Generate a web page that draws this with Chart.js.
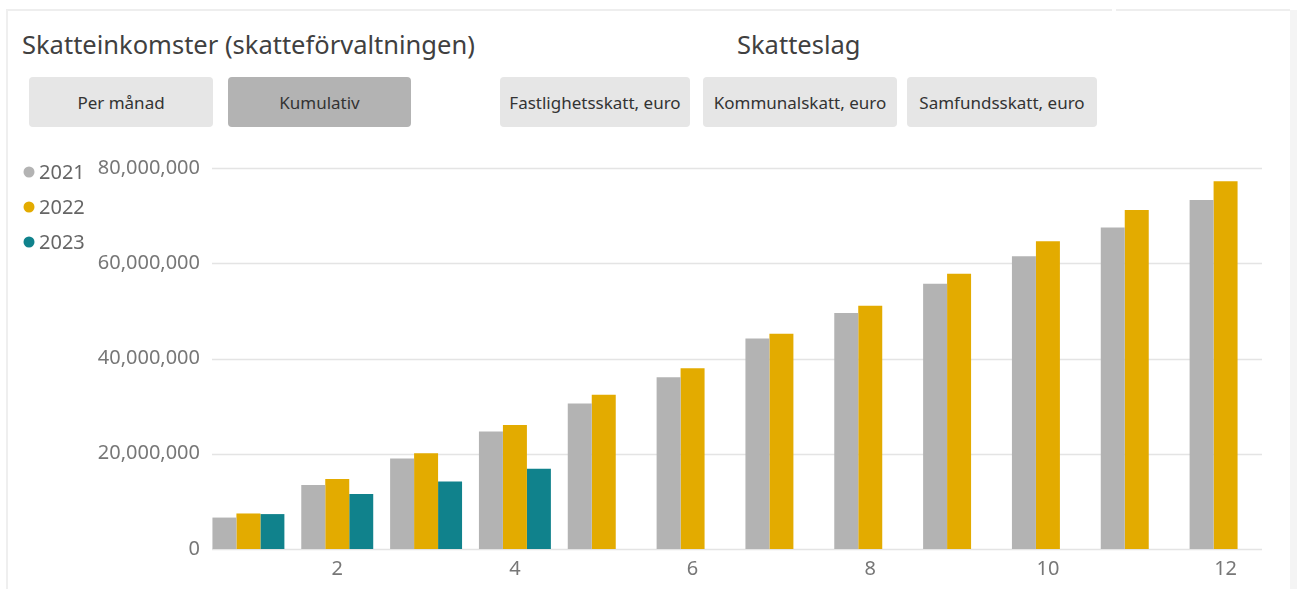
<!DOCTYPE html>
<html>
<head>
<meta charset="utf-8">
<script src="https://cdn.jsdelivr.net/npm/chart.js@4/dist/chart.umd.min.js"></script>
<style>
  html, body { margin: 0; padding: 0; background: #fff; }
  body { width: 1301px; height: 589px; position: relative; overflow: hidden; font-family: "Segoe UI", "Noto Sans", "Open Sans", sans-serif; }
  .frameTop { position: absolute; top: 9px; height: 2px; background: #eeeeee; }
  .frameLeft { position: absolute; left: 6px; top: 10px; width: 2px; height: 579px; background: #efefef; }
  .frameRight { position: absolute; left: 1290px; top: 10px; width: 7px; height: 579px; background: #f4f4f4; }
  .title { position: absolute; font-size: 25.5px; color: #404040; white-space: nowrap; line-height: 1; }
  .btn { position: absolute; top: 77px; height: 50px; border-radius: 4px; background: #e6e6e6; color: #333;
         font-family: "Segoe UI", "Noto Sans", "Open Sans", sans-serif; font-size: 17px;
         display: flex; align-items: center; justify-content: center; white-space: nowrap; }
  .btn.active { background: #b3b3b3; }
  #wrap { position: absolute; left: 0; top: 140px; width: 1301px; height: 449px; }
</style>
</head>
<body>
<div class="frameTop" style="left:6px; width:1106px;"></div>
<div class="frameTop" style="left:1116px; width:174px;"></div>
<div class="frameLeft"></div>
<div class="frameRight"></div>

<div class="title" style="left:22px; top:32px;">Skatteinkomster (skatteförvaltningen)</div>
<div class="title" style="left:737px; top:32px;">Skatteslag</div>

<div class="btn" style="left:29px; width:184px;">Per månad</div>
<div class="btn active" style="left:228px; width:183px;">Kumulativ</div>
<div class="btn" style="left:500px; width:190px;">Fastlighetsskatt, euro</div>
<div class="btn" style="left:703px; width:194px;">Kommunalskatt, euro</div>
<div class="btn" style="left:907px; width:190px;">Samfundsskatt, euro</div>

<div id="wrap"><canvas id="c" width="1301" height="449"></canvas></div>

<script>
const months = ['1','2','3','4','5','6','7','8','9','10','11','12'];
const seriesNames = ['2021','2022','2023'];
const values2021 = [6600000, 13450000, 19000000, 24650000, 30560000, 36040000, 44200000, 49570000, 55700000, 61460000, 67500000, 73300000];
const values2022 = [7460000, 14720000, 20130000, 26040000, 32400000, 37950000, 45200000, 51050000, 57800000, 64600000, 71200000, 77200000];
const values2023 = [7330000, 11550000, 14150000, 16830000, null, null, null, null, null, null, null, null];
const yTicks = [0, 20000000, 40000000, 60000000, 80000000];
const colors = ['#b3b3b3', '#e3ab00', '#10828c'];

const fontFamily = '"Segoe UI", "Noto Sans", "Open Sans", sans-serif';
const tickFont = { family: fontFamily, size: 20 };
const tickColor = '#777777';

const gridPlugin = {
  id: 'pbiGrid',
  beforeDatasetsDraw(chart) {
    const ctx = chart.ctx, y = chart.scales.y;
    const m0 = chart.getDatasetMeta(0).data, m1 = chart.getDatasetMeta(1).data;
    const first = m0[0], last = m1[m1.length - 1];
    const left = Math.round(first.x - first.width / 2);
    const right = Math.round(last.x + last.width * 1.5);
    ctx.save();
    ctx.strokeStyle = '#e4e4e4';
    ctx.lineWidth = 1.5;
    y.ticks.forEach(t => {
      const py = Math.round(y.getPixelForValue(t.value)) + 0.5;
      ctx.beginPath(); ctx.moveTo(left, py); ctx.lineTo(right, py); ctx.stroke();
    });
    ctx.restore();
  }
};

const legendPlugin = {
  id: 'pbiLegend',
  afterDraw(chart) {
    const ctx = chart.ctx;
    ctx.save();
    ctx.font = '20px ' + fontFamily;
    ctx.textBaseline = 'middle';
    chart.data.datasets.forEach((ds, i) => {
      const cy = 32 + i * 35;
      ctx.fillStyle = ds.backgroundColor;
      ctx.beginPath(); ctx.arc(29, cy, 5.5, 0, Math.PI * 2); ctx.fill();
      ctx.fillStyle = '#666666';
      ctx.textAlign = 'left';
      ctx.fillText(ds.label, 39, cy + 1);
    });
    ctx.restore();
  }
};

new Chart(document.getElementById('c'), {
  type: 'bar',
  data: {
    labels: months,
    datasets: [
      { label: seriesNames[0], data: values2021, backgroundColor: colors[0] },
      { label: seriesNames[1], data: values2022, backgroundColor: colors[1] },
      { label: seriesNames[2], data: values2023, backgroundColor: colors[2] }
    ]
  },
  options: {
    responsive: false,
    animation: false,
    devicePixelRatio: 1,
    layout: { padding: { left: 0, right: 31, top: 28, bottom: 0 } },
    datasets: { bar: { categoryPercentage: 0.81, barPercentage: 1.0, borderWidth: 0 } },
    plugins: { legend: { display: false }, tooltip: { enabled: false } },
    scales: {
      x: {
        grid: { display: false, drawTicks: false },
        border: { display: false },
        ticks: {
          autoSkip: false, maxRotation: 0, padding: 8,
          color: tickColor, font: tickFont,
          callback: (v, i) => (Number(months[i]) % 2 === 0 ? months[i] : '')
        }
      },
      y: {
        min: yTicks[0], max: yTicks[yTicks.length - 1],
        afterFit: s => { s.width = 204; },
        afterBuildTicks: s => { s.ticks = yTicks.map(v => ({ value: v })); },
        grid: { display: false, drawTicks: false },
        border: { display: false },
        ticks: {
          padding: 4, color: tickColor, font: tickFont,
          callback: v => Number(v).toLocaleString('en-US')
        }
      }
    }
  },
  plugins: [gridPlugin, legendPlugin]
});
</script>
</body>
</html>
